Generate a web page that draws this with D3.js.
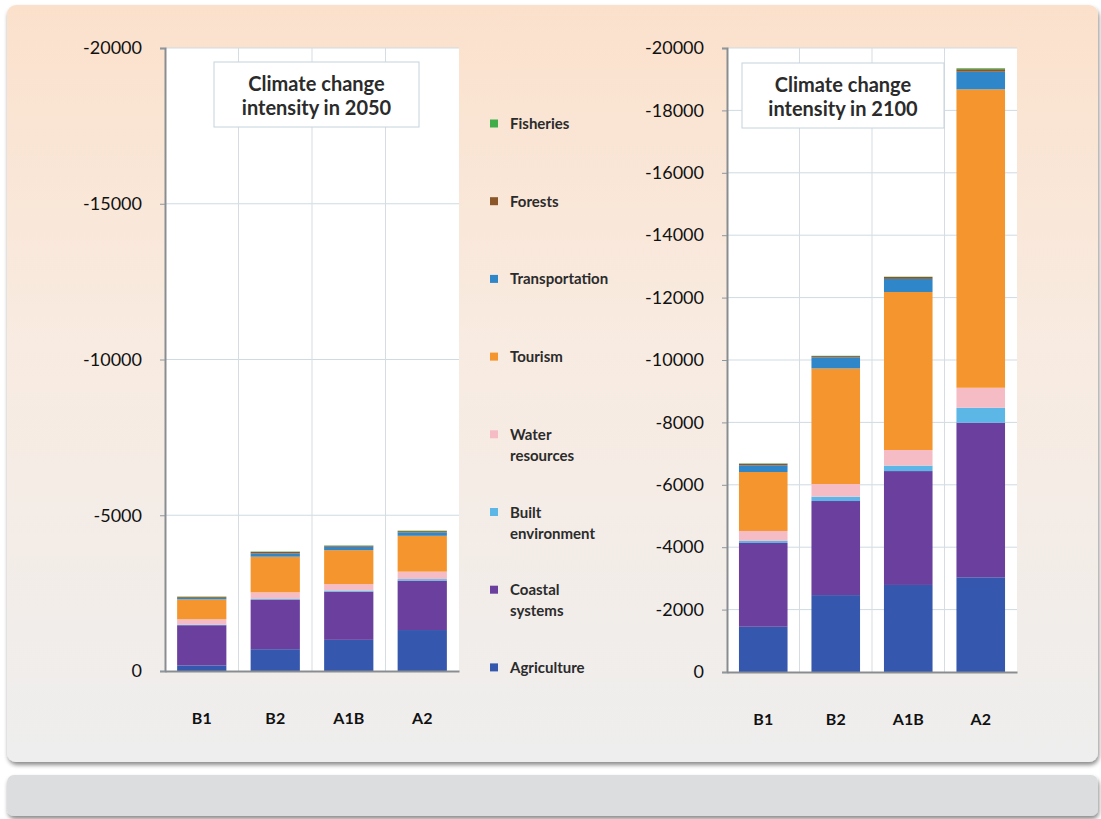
<!DOCTYPE html>
<html>
<head>
<meta charset="utf-8">
<script src="https://cdn.jsdelivr.net/npm/d3@7"></script>
<style>
  html, body { margin: 0; padding: 0; background: #ffffff; }
  svg { display: block; font-family: Lato, "Open Sans", sans-serif; }
</style>
</head>
<body>
<svg id="chart" width="1101" height="819"></svg>
<script>
// Scenarios and sectors
const scenarios = ["B1", "B2", "A1B", "A2"];
const sectors = ["Agriculture", "Coastal systems", "Built environment", "Water resources",
                 "Tourism", "Transportation", "Forests", "Fisheries"];
const sectorColors = ["#3557ad", "#6a3f9e", "#5cb6e6", "#f6bcc6",
                      "#f5952e", "#2f86c8", "#8b5628", "#3fae4a"];

// Climate change intensity 2050, one value per scenario (B1, B2, A1B, A2)
const agriculture2050     = [-180, -700, -1000, -1315];
const coastal2050         = [-1290, -1580, -1545, -1585];
const built2050           = [-20, -30, -40, -50];
const water2050           = [-170, -215, -205, -240];
const tourism2050         = [-640, -1145, -1090, -1150];
const transportation2050  = [-50, -105, -110, -110];
const forests2050         = [-30, -50, -30, -40];
const fisheries2050       = [-10, -10, -10, -15];

// Climate change intensity 2100
const agriculture2100     = [-1450, -2465, -2790, -3035];
const coastal2100         = [-2685, -3015, -3650, -4955];
const built2100           = [-65, -140, -175, -480];
const water2100           = [-320, -405, -500, -640];
const tourism2100         = [-1890, -3705, -5065, -9565];
const transportation2100  = [-215, -355, -420, -565];
const forests2100         = [-50, -40, -60, -80];
const fisheries2100       = [-10, -10, -10, -30];

// Axis ticks
const ticks2050 = [0, -5000, -10000, -15000, -20000];
const ticks2100 = [0, -2000, -4000, -6000, -8000, -10000, -12000, -14000, -16000, -18000, -20000];

const series2050 = [agriculture2050, coastal2050, built2050, water2050,
                    tourism2050, transportation2050, forests2050, fisheries2050];
const series2100 = [agriculture2100, coastal2100, built2100, water2100,
                    tourism2100, transportation2100, forests2100, fisheries2100];

const svg = d3.select("#chart");
const defs = svg.append("defs");

// Panel background gradient (peach to light grey)
const grad = defs.append("linearGradient").attr("id", "panelGrad")
  .attr("x1", 0).attr("y1", 0).attr("x2", 0).attr("y2", 1);
grad.append("stop").attr("offset", "0%").attr("stop-color", "#fbe1cc");
grad.append("stop").attr("offset", "45%").attr("stop-color", "#f8ebe1");
grad.append("stop").attr("offset", "100%").attr("stop-color", "#eeeeee");

const shadow = defs.append("filter").attr("id", "shadow")
  .attr("x", "-5%").attr("y", "-5%").attr("width", "110%").attr("height", "115%");
shadow.append("feDropShadow").attr("dx", 1).attr("dy", 3).attr("stdDeviation", 2)
  .attr("flood-color", "#000").attr("flood-opacity", 0.45);

// Main panel
svg.append("rect").attr("x", 7).attr("y", 5).attr("width", 1091).attr("height", 757)
  .attr("rx", 9).attr("fill", "url(#panelGrad)").attr("filter", "url(#shadow)");

// Lower bar
svg.append("rect").attr("x", 7).attr("y", 775).attr("width", 1091).attr("height", 41)
  .attr("rx", 7).attr("fill", "#dcdddf").attr("filter", "url(#shadow)");

function drawPanel(cfg) {
  const { x0, x1, yTop, yBottom, series, ticks, title, titleBox } = cfg;
  const g = svg.append("g");

  const x = d3.scaleBand().domain(scenarios).range([x0, x1])
    .paddingInner(0.33).paddingOuter(0.165);
  const y = d3.scaleLinear().domain([0, -20000]).range([yBottom, yTop]);

  // Plot area
  g.append("rect").attr("x", x0).attr("y", yTop).attr("width", x1 - x0)
    .attr("height", yBottom - yTop).attr("fill", "#ffffff");

  // Horizontal gridlines
  g.selectAll(".hgrid").data(ticks.filter(t => t !== 0)).join("line")
    .attr("x1", x0).attr("x2", x1)
    .attr("y1", d => y(d)).attr("y2", d => y(d))
    .attr("stroke", "#cfdbe2").attr("stroke-width", 1);

  // Vertical gridlines at category boundaries
  const bounds = scenarios.slice(1).map(s => x(s) - x.step() * x.paddingInner() / 2);
  g.selectAll(".vgrid").data(bounds).join("line")
    .attr("x1", d => d).attr("x2", d => d)
    .attr("y1", yTop).attr("y2", yBottom)
    .attr("stroke", "#d6dde2").attr("stroke-width", 1);

  // Stacked bars
  const rows = scenarios.map((s, i) => {
    const r = { scenario: s };
    sectors.forEach((sec, j) => { r[sec] = series[j][i]; });
    return r;
  });
  const stacked = d3.stack().keys(sectors).offset(d3.stackOffsetDiverging)(rows);
  stacked.forEach((layer, j) => {
    g.append("g").attr("fill", sectorColors[j])
      .selectAll("rect").data(layer).join("rect")
      .attr("x", d => x(d.data.scenario))
      .attr("width", x.bandwidth())
      .attr("y", d => Math.min(y(d[0]), y(d[1])))
      .attr("height", d => Math.abs(y(d[0]) - y(d[1])));
  });

  // Y axis
  const yAxis = d3.axisLeft(y).tickValues(ticks).tickFormat(d => String(d))
    .tickSize(5).tickPadding(18);
  const ya = g.append("g").attr("transform", `translate(${x0},0)`).call(yAxis);
  ya.select(".domain").attr("stroke", "#8a8d90").attr("stroke-width", 2);
  ya.selectAll(".tick line").attr("stroke", "#8a98a2");
  ya.selectAll(".tick text").attr("fill", "#111111")
    .style("font-size", "18px").style("font-family", "Lato, sans-serif");

  // X axis
  const xAxis = d3.axisBottom(x).tickSize(0).tickPadding(42);
  const xa = g.append("g").attr("transform", `translate(0,${yBottom})`).call(xAxis);
  xa.select(".domain").attr("stroke", "#8a8d90").attr("stroke-width", 2);
  xa.selectAll(".tick text").attr("fill", "#111111")
    .style("font-size", "16px").style("font-weight", "bold").style("font-family", "Lato, sans-serif");

  // Title box
  g.append("rect").attr("x", titleBox.x).attr("y", titleBox.y)
    .attr("width", titleBox.w).attr("height", titleBox.h)
    .attr("fill", "#ffffff").attr("stroke", "#c6d4dd").attr("stroke-width", 1);
  const tt = g.append("text").attr("text-anchor", "middle")
    .attr("fill", "#2b2b2b").style("font-size", "20px").style("font-weight", "bold");
  title.forEach((line, i) => {
    tt.append("tspan").attr("x", titleBox.x + titleBox.w / 2)
      .attr("y", titleBox.y + 29 + i * 24).text(line);
  });
}

drawPanel({
  x0: 165, x1: 459, yTop: 48, yBottom: 671,
  series: series2050, ticks: ticks2050,
  title: ["Climate change", "intensity in 2050"],
  titleBox: { x: 214, y: 62, w: 205, h: 65 }
});

drawPanel({
  x0: 727, x1: 1017, yTop: 48, yBottom: 672,
  series: series2100, ticks: ticks2100,
  title: ["Climate change", "intensity in 2100"],
  titleBox: { x: 742, y: 63, w: 202, h: 65 }
});

// Legend, top entry first
const legendItems = sectors.map((s, i) => ({ name: s, color: sectorColors[i] })).reverse();
const legendLabels = {
  "Water resources": ["Water", "resources"],
  "Built environment": ["Built", "environment"],
  "Coastal systems": ["Coastal", "systems"]
};
const legend = svg.append("g");
legendItems.forEach((item, i) => {
  const cy = 124 + i * 77.7;
  const lines = legendLabels[item.name] || [item.name];
  legend.append("rect").attr("x", 490).attr("y", cy - 4.5)
    .attr("width", 8).attr("height", 8).attr("fill", item.color);
  const t = legend.append("text").attr("fill", "#2b2b2b")
    .style("font-size", "15px").style("font-weight", "bold");
  lines.forEach((l, k) => {
    t.append("tspan").attr("x", 510).attr("y", cy + 5 + k * 21).text(l);
  });
});
</script>
</body>
</html>
